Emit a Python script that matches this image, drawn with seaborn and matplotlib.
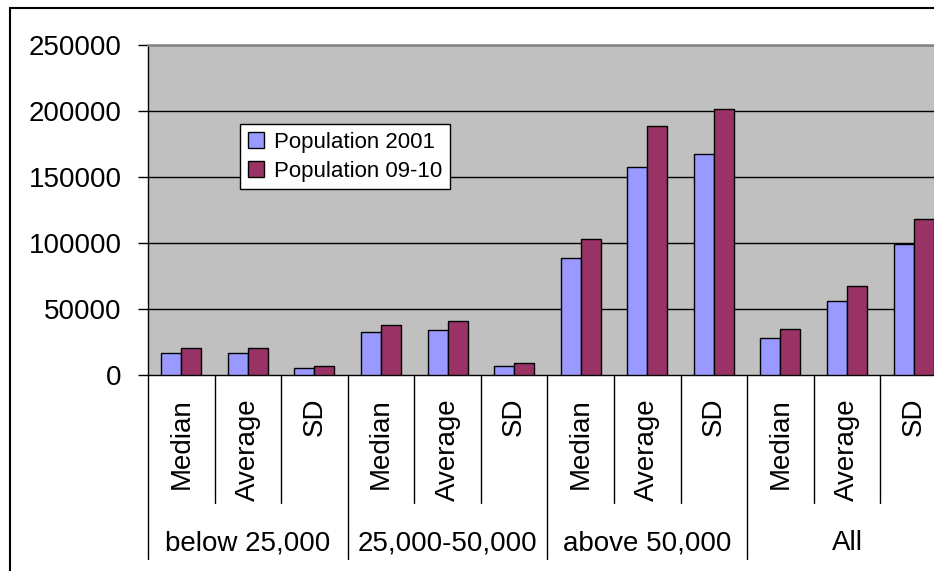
import matplotlib
matplotlib.use("Agg")
import matplotlib.pyplot as plt
import matplotlib.transforms as mtransforms
from matplotlib.lines import Line2D
import seaborn as sns
import pandas as pd

# Town-size groups and the statistic shown for each
groups = ["below 25,000", "25,000-50,000", "above 50,000", "All"]
stats = ["Median", "Average", "SD"]

# Population figures per group/statistic (12 categories in order)
pop_2001 = [16700, 16700, 5100, 32300, 34100, 6800,
            88400, 157800, 167400, 27800, 56100, 99000]
pop_0910 = [20200, 20200, 6800, 37600, 41100, 8800,
            103300, 188400, 201500, 34800, 67400, 118200]

series_names = ["Population 2001", "Population 09-10"]
series_colors = ["#9999FF", "#993366"]
y_ticks = [0, 50000, 100000, 150000, 200000, 250000]

sns.set_style("white")
plt.rcParams["font.family"] = ["Liberation Sans", "DejaVu Sans"]
plt.rcParams["text.color"] = "black"
plt.rcParams["ytick.labelcolor"] = "black"
plt.rcParams["ytick.color"] = "black"

keys = [f"{g}|{s}" for g in groups for s in stats]
df = pd.DataFrame({
    "key": keys * 2,
    "value": pop_2001 + pop_0910,
    "series": [series_names[0]] * len(keys) + [series_names[1]] * len(keys),
})

W, H = 934, 571
fig = plt.figure(figsize=(W / 100, H / 100), dpi=100)
ax_left, ax_bottom_px, ax_top_px = 148, 375, 45
cat_w = 66.57
ax_w = cat_w * len(keys)
ax = fig.add_axes([ax_left / W, (H - ax_bottom_px) / H,
                   ax_w / W, (ax_bottom_px - ax_top_px) / H])
ax.set_facecolor("#C0C0C0")

sns.barplot(data=df, x="key", y="value", hue="series", order=keys,
            hue_order=series_names, palette=series_colors, width=0.6,
            edgecolor="black", linewidth=1.0, saturation=1, ax=ax,
            errorbar=None, zorder=3)

ax.set_xlim(-0.5, len(keys) - 0.5)
ax.set_ylim(0, 250000)
ax.set_yticks(y_ticks)
ax.set_yticklabels([str(v) for v in y_ticks], fontsize=20, color="black")
ax.tick_params(axis="y", direction="out", length=7, width=1,
               color="black", pad=12, left=True)
ax.set_xticks([])
ax.set_xlabel("")
ax.set_ylabel("")

# Horizontal gridlines
for v in y_ticks[1:-1]:
    ax.axhline(v, color="black", linewidth=1.0, zorder=1)

ax.spines["right"].set_visible(False)
ax.spines["top"].set_color("#808080")
ax.spines["top"].set_linewidth(1.8)
for side in ["left", "bottom"]:
    ax.spines[side].set_color("black")
    ax.spines[side].set_linewidth(1.0)

# Category separators and labels below the axis
axh = ax_bottom_px - ax_top_px
trans = mtransforms.blended_transform_factory(ax.transData, ax.transAxes)
short_end = -(503 - ax_bottom_px) / axh
long_end = -(559 - ax_bottom_px) / axh
for i in range(len(keys) + 1):
    xpos = i - 0.5
    end = long_end if i % len(stats) == 0 else short_end
    ax.add_line(Line2D([xpos, xpos], [0, end], transform=trans,
                       color="black", linewidth=1.0, clip_on=False))

label_top = -(398 - ax_bottom_px) / axh
for i, k in enumerate(keys):
    ax.text(i, label_top, k.split("|")[1], transform=trans, rotation=90,
            ha="center", va="top", fontsize=20, color="black", clip_on=False)

group_y = -(543 - ax_bottom_px) / axh
for gi, g in enumerate(groups):
    center = gi * len(stats) + (len(stats) - 1) / 2
    ax.text(center, group_y, g, transform=trans, ha="center",
            va="center", fontsize=20, color="black", clip_on=False)

# Legend
handles, labels = ax.get_legend_handles_labels()
leg = ax.legend(handles, labels, loc="upper left",
                bbox_to_anchor=(240 / W, 1 - 124 / H),
                bbox_transform=fig.transFigure, fontsize=16,
                frameon=True, fancybox=False, framealpha=1,
                edgecolor="black", handlelength=0.75, handleheight=0.75,
                handletextpad=0.45, borderpad=0.35, labelspacing=0.35,
                borderaxespad=0)
leg.get_frame().set_linewidth(1.0)
for t in leg.get_texts():
    t.set_color("black")
leg.set_zorder(5)

# Outer chart frame
fig.add_artist(Line2D([10 / W, 10 / W], [0, 1 - 8 / H],
                      transform=fig.transFigure, color="black", linewidth=1.5))
fig.add_artist(Line2D([10 / W, 1], [1 - 8 / H, 1 - 8 / H],
                      transform=fig.transFigure, color="black", linewidth=1.5))

fig.savefig("out.png", dpi=100, facecolor="white")
